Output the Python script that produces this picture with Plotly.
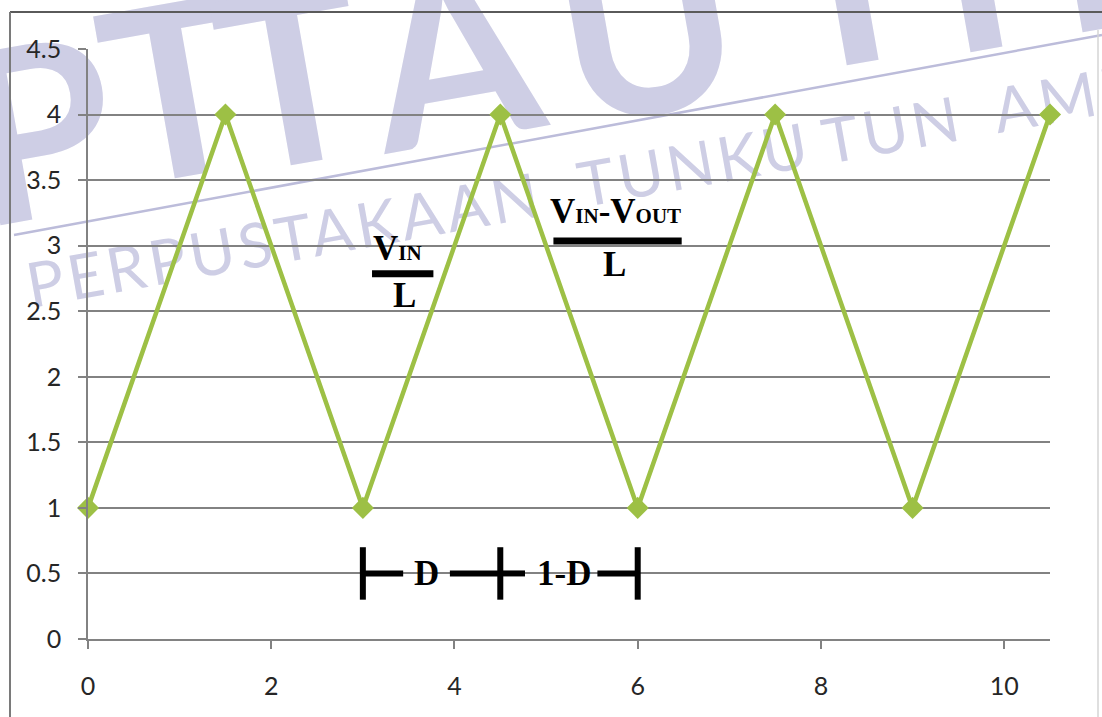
import plotly.graph_objects as go

# Inductor current: triangle wave samples
time_points = [0, 1.5, 3, 4.5, 6, 7.5, 9, 10.5]
current_values = [1, 4, 1, 4, 1, 4, 1, 4]

x_tick_values = [0, 2, 4, 6, 8, 10]
y_tick_values = [0, 0.5, 1, 1.5, 2, 2.5, 3, 3.5, 4, 4.5]
y_tick_labels = ["0", "0.5", "1", "1.5", "2", "2.5", "3", "3.5", "4", "4.5"]

# Duty-cycle bracket: switching instants and labels
duty_edges = [3, 4.5, 6]
duty_labels = ["D", "1-D"]
duty_level = 0.5

W, H = 1102, 717
ML, MR, MT, MB = 88, 52, 49, 78
PW = W - ML - MR
PH = H - MT - MB


def px(xp):
    return (xp - ML) / PW


def py(yp):
    return (H - MB - yp) / PH


GREEN = "#9DC045"
GRID = "#828282"
MARK = "#CECEE5"
SERIF = "Liberation Serif, Times New Roman, serif"

fig = go.Figure()
fig.add_trace(go.Scatter(
    x=time_points, y=current_values, mode="lines+markers",
    line=dict(color=GREEN, width=4.5),
    marker=dict(symbol="diamond", size=17, color=GREEN),
    cliponaxis=False, hoverinfo="skip", showlegend=False,
))

shapes = []
annotations = []

# ---- background stamp (drawn under grid and data) ----
big_letters = [("P", 38, 121), ("T", 174, 81), ("T", 290, 68), ("A", 451, 45),
               ("U", 645, 18), ("T", 846, -32), ("H", 1026, -55)]
for ch, cx, cy in big_letters:
    shapes.append(dict(
        type="rect", xref="paper", yref="paper", layer="below",
        x0=px(cx - 1), x1=px(cx + 1), y0=py(cy + 1), y1=py(cy - 1),
        line=dict(width=0),
        label=dict(text=ch, textangle=-10, textposition="middle center",
                   font=dict(family="Lato", size=240, color=MARK, weight=700)),
    ))

words = [("PERPUSTAKAAN", 284, 237), ("TUNKU", 694, 162),
         ("TUN", 892, 127), ("AMINAH", 1130, 84)]
for w, cx, cy in words:
    shapes.append(dict(
        type="rect", xref="paper", yref="paper", layer="below",
        x0=px(cx - 1), x1=px(cx + 1), y0=py(cy + 1), y1=py(cy - 1),
        line=dict(width=0),
        label=dict(text="<span style='letter-spacing:4px'>" + w + "</span>",
                   textangle=-10.2, textposition="middle center",
                   font=dict(family="Lato", size=62, color=MARK, weight=400)),
    ))

shapes.append(dict(type="line", xref="paper", yref="paper", layer="below",
                   x0=px(14), y0=py(235), x1=px(1102), y1=py(35),
                   line=dict(color="#BCBCDA", width=2.5)))

# ---- outer frame ----
shapes.append(dict(type="line", xref="paper", yref="paper",
                   x0=px(10), x1=px(1102), y0=py(12), y1=py(12),
                   line=dict(color="#5a5a5a", width=2)))
shapes.append(dict(type="line", xref="paper", yref="paper",
                   x0=px(10), x1=px(10), y0=py(12), y1=py(717),
                   line=dict(color="#7a7a7a", width=2)))
shapes.append(dict(type="line", xref="paper", yref="paper",
                   x0=px(1098), x1=px(1098), y0=py(30), y1=py(717),
                   line=dict(color="#d4d4d4", width=1.5)))

# ---- slope labels V_IN/L and (V_IN-V_OUT)/L ----
sub = "<span style='font-size:21px'>{}</span>"
annotations.append(dict(x=3.38, y=2.98, text="V" + sub.format("IN")))
annotations.append(dict(x=3.45, y=2.62, text="L"))
shapes.append(dict(type="line", xref="x", yref="y", x0=3.10, x1=3.77, y0=2.785, y1=2.785,
                   line=dict(color="black", width=7)))

annotations.append(dict(x=5.76, y=3.26, text="V" + sub.format("IN") + "-V" + sub.format("OUT")))
annotations.append(dict(x=5.75, y=2.86, text="L"))
shapes.append(dict(type="line", xref="x", yref="y", x0=5.08, x1=6.48, y0=3.036, y1=3.036,
                   line=dict(color="black", width=7)))

# ---- duty-cycle bracket ----
for e in duty_edges:
    shapes.append(dict(type="line", xref="x", yref="y", x0=e, x1=e,
                       y0=duty_level - 0.2, y1=duty_level + 0.2,
                       line=dict(color="black", width=6)))
gap = [(duty_edges[0], 3.44), (3.95, duty_edges[1]), (duty_edges[1], 4.77), (5.56, duty_edges[2])]
for a, b in gap:
    shapes.append(dict(type="line", xref="x", yref="y", x0=a, x1=b,
                       y0=duty_level, y1=duty_level,
                       line=dict(color="black", width=6)))
annotations.append(dict(x=3.70, y=duty_level, text=duty_labels[0]))
annotations.append(dict(x=5.19, y=duty_level, text=duty_labels[1]))

for a in annotations:
    a.update(xref="x", yref="y", showarrow=False, xanchor="center", yanchor="middle",
             font=dict(family=SERIF, size=35, color="black", weight=700))

tick_font = dict(family="Lato", size=25, color="#262626")

fig.update_layout(
    width=W, height=H,
    margin=dict(l=ML, r=MR, t=MT, b=MB, pad=0),
    paper_bgcolor="white", plot_bgcolor="white",
    shapes=shapes, annotations=annotations,
    xaxis=dict(range=[0, 10.5], tickvals=x_tick_values, ticks="outside", ticklen=8,
               tickwidth=1.5, tickcolor=GRID, showline=True, linecolor=GRID, linewidth=1.5,
               showgrid=False, zeroline=False, tickfont=tick_font, ticklabelstandoff=16),
    yaxis=dict(range=[0, 4.5], tickvals=y_tick_values, ticktext=y_tick_labels,
               ticks="outside", ticklen=8, tickwidth=1.5, tickcolor=GRID,
               showline=True, linecolor=GRID, linewidth=1.5,
               showgrid=True, gridcolor=GRID, gridwidth=1.5, zeroline=False,
               tickfont=tick_font, ticklabelstandoff=12),
)

fig.write_html("out.html")
